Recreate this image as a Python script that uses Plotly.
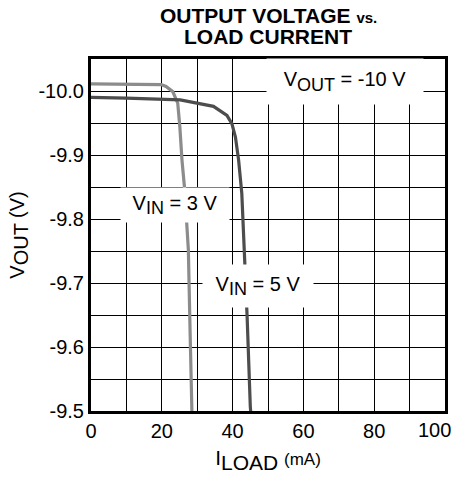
import plotly.graph_objects as go

# VIN = 3 V curve
x_3v = [0, 10, 19.8, 21.2, 23.1, 24.5, 25.1, 25.7, 26.4, 27.1, 27.5, 28.0, 28.5]
y_3v = [-10.011, -10.011, -10.010, -10.007, -9.999, -9.981, -9.944, -9.892, -9.85, -9.788, -9.752, -9.622, -9.5]
# VIN = 5 V curve
x_5v = [0, 10, 25.2, 34.6, 38.4, 39.8, 40.8, 41.7, 42.6, 43.3, 44.1, 45.0, 45.1]
y_5v = [-9.990, -9.989, -9.986, -9.976, -9.962, -9.949, -9.928, -9.892, -9.84, -9.757, -9.648, -9.507, -9.5]

x_ticks = [0, 20, 40, 60, 80, 100]
x_tick_text = ["0", "20", "40", "60", "80", ""]
x_last_label = "100"
y_ticks = [-10.0, -9.9, -9.8, -9.7, -9.6, -9.5]
y_tick_text = ["-10.0", "-9.9", "-9.8", "-9.7", "-9.6", "-9.5"]

FONT = "Liberation Sans, Arial, sans-serif"


def sub(t, size):
    return "<sub><span style='font-size:%dpx'>%s</span></sub>" % (size, t)


fig = go.Figure()
fig.add_trace(go.Scatter(x=x_3v, y=y_3v, mode="lines", line=dict(color="#8c8c8c", width=3.2),
                         showlegend=False, hoverinfo="skip"))
fig.add_trace(go.Scatter(x=x_5v, y=y_5v, mode="lines", line=dict(color="#4d4d4d", width=3.2),
                         showlegend=False, hoverinfo="skip"))

ann_font = dict(family=FONT, size=20, color="black")
fig.add_annotation(x=71.8, y=-10.0145, xref="x", yref="y", text="V" + sub("OUT", 18) + " = -10 V",
                   showarrow=False, bgcolor="white", width=156, height=45, borderpad=0, font=ann_font)
fig.add_annotation(x=23.8, y=-9.822, xref="x", yref="y", text="V" + sub("IN", 18) + " = 3 V",
                   showarrow=False, bgcolor="white", width=108, height=34, borderpad=0, font=ann_font)
fig.add_annotation(x=47.2, y=-9.695, xref="x", yref="y", text="V" + sub("IN", 18) + " = 5 V",
                   showarrow=False, bgcolor="white", width=110, height=42, borderpad=0, font=ann_font)

# last x tick label, nudged left so it stays inside the figure (as in the reference)
fig.add_annotation(x=x_ticks[-1], y=0, xref="x", yref="paper", xanchor="right", yanchor="top",
                   xshift=8, yshift=-6, text=x_last_label, showarrow=False,
                   font=dict(family=FONT, size=20, color="black"))

# title as paper annotations
fig.add_annotation(x=0.5, y=1, xref="paper", yref="paper", yanchor="bottom", yshift=30,
                   text="<b>OUTPUT VOLTAGE <span style='font-size:15px'>vs.</span></b>",
                   showarrow=False, font=dict(family=FONT, size=21, color="black"))
fig.add_annotation(x=0.5, y=1, xref="paper", yref="paper", yanchor="bottom", yshift=9,
                   text="<b>LOAD CURRENT</b>",
                   showarrow=False, font=dict(family=FONT, size=21, color="black"))

fig.update_layout(
    width=456, height=482,
    margin=dict(l=91, r=11, t=59, b=71, autoexpand=False),
    paper_bgcolor="white", plot_bgcolor="white",
    font=dict(family=FONT, size=20, color="black"),
    xaxis=dict(range=[0, 100], tickvals=x_ticks, ticktext=x_tick_text, ticks="",
               automargin=False,
               showgrid=True, gridcolor="black", gridwidth=1,
               minor=dict(dtick=10, tick0=0, showgrid=True, gridcolor="black", gridwidth=1),
               showline=True, linecolor="black", linewidth=3, mirror=True, zeroline=False,
               title=dict(text="I" + sub("LOAD", 21) + " <span style='font-size:17px'>(mA)</span>",
                          font=dict(size=21), standoff=10),
               tickfont=dict(size=20)),
    yaxis=dict(range=[-9.5, -10.05], tickvals=y_ticks, ticktext=y_tick_text, ticks="",
               automargin=False,
               showgrid=True, gridcolor="black", gridwidth=1,
               minor=dict(dtick=0.05, tick0=-10.0, showgrid=True, gridcolor="black", gridwidth=1),
               showline=True, linecolor="black", linewidth=3, mirror=True, zeroline=False,
               title=dict(text="V" + sub("OUT", 20) + " (V)", font=dict(size=20), standoff=9),
               tickfont=dict(size=20)),
)

fig.write_html("out.html", config={"displayModeBar": False},
               post_script="document.body.style.margin='0';")
